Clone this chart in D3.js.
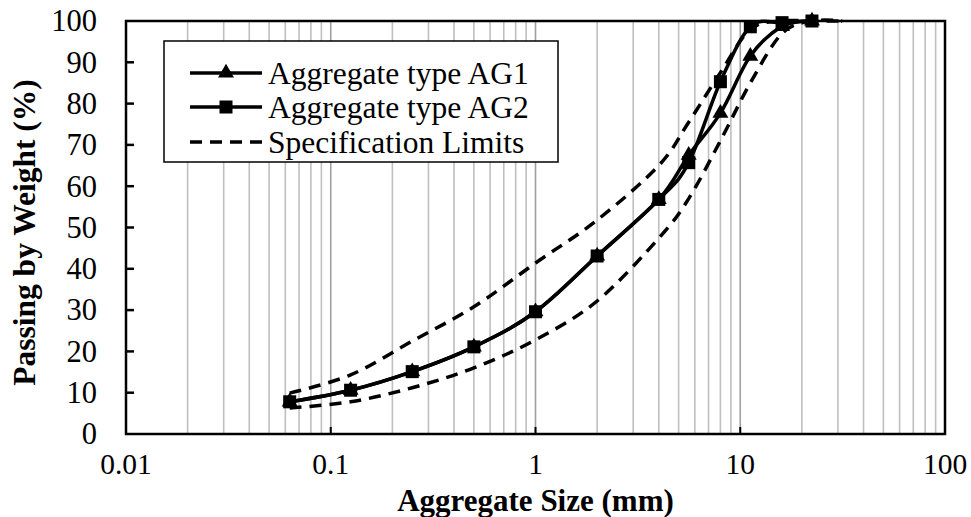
<!DOCTYPE html>
<html>
<head>
<meta charset="utf-8">
<script src="https://cdn.jsdelivr.net/npm/d3@7"></script>
<style>
  html, body { margin: 0; padding: 0; background: #fff; }
  svg { display: block; }
</style>
</head>
<body>
<svg id="chart" width="971" height="517"></svg>
<script>
// ---- data ----
const sieveSizes = [0.063, 0.125, 0.25, 0.5, 1, 2, 4, 5.6, 8, 11.2, 16, 22.4];
const ag1Values  = [7.8, 10.6, 15.1, 21.1, 29.6, 43.1, 56.8, 67.5, 77.7, 91.5, 98.7, 100];
const ag2Values  = [7.8, 10.6, 15.1, 21.1, 29.6, 43.1, 56.8, 65.7, 85.3, 98.6, 99.6, 100];
const specSizes  = [0.063, 0.125, 0.25, 0.5, 1, 2, 4, 5.6, 8, 11.2, 16, 22.4, 31.5];
const specUpper  = [9.9, 14.3, 22.5, 30.8, 41.4, 51.8, 65, 75.5, 87.5, 98, 100, 100, 100];
const specLower  = [6.3, 7.8, 11.2, 16, 22.8, 32.2, 47.4, 57, 71, 85, 97, 100, 100];
const xTickValues = [0.01, 0.1, 1, 10, 100];
const xTickLabels = ["0.01", "0.1", "1", "10", "100"];
const yTickValues = [0, 10, 20, 30, 40, 50, 60, 70, 80, 90, 100];
const legendLabels = ["Aggregate type AG1", "Aggregate type AG2", "Specification Limits"];

// ---- layout ----
const FONT = "'Liberation Serif', 'DejaVu Serif', 'Times New Roman', Times, serif";
const svg = d3.select("#chart");
const L = 126, R = 945, T = 21, B = 434;
const x = d3.scaleLog().domain([0.01, 100]).range([L, R]);
const y = d3.scaleLinear().domain([0, 100]).range([B, T]);

// vertical gridlines
const gridVals = [];
[0.01, 0.1, 1, 10].forEach(dec => { for (let k = 1; k <= 9; k++) { if (!(dec === 0.01 && k === 1)) gridVals.push(dec * k); } });
svg.append("g").selectAll("line").data(gridVals).join("line")
  .attr("x1", d => x(d)).attr("x2", d => x(d))
  .attr("y1", T).attr("y2", B)
  .attr("stroke", d => (Math.abs(Math.log10(d) - Math.round(Math.log10(d))) < 1e-9) ? "#a0a0a0" : "#bfbfbf")
  .attr("stroke-width", 1.6);

// x axis major ticks (inside)
svg.append("g").selectAll("line").data([0.1, 1, 10]).join("line")
  .attr("x1", d => x(d)).attr("x2", d => x(d))
  .attr("y1", B).attr("y2", B - 7)
  .attr("stroke", "#000").attr("stroke-width", 2);

// y axis ticks (inside)
svg.append("g").selectAll("line").data(yTickValues.slice(1, -1)).join("line")
  .attr("x1", L).attr("x2", L + 8)
  .attr("y1", d => y(d)).attr("y2", d => y(d))
  .attr("stroke", "#000").attr("stroke-width", 2.5);

// frame
svg.append("rect").attr("x", L).attr("y", T).attr("width", R - L).attr("height", B - T)
  .attr("fill", "none").attr("stroke", "#000").attr("stroke-width", 2.5);

// tick labels
svg.append("g").selectAll("text").data(yTickValues).join("text")
  .attr("font-family", FONT)
  .attr("x", 97).attr("y", d => y(d)).attr("dy", "0.34em")
  .attr("text-anchor", "end").attr("font-size", 30.5).text(d => d);
svg.append("g").selectAll("text").data(xTickValues).join("text")
  .attr("font-family", FONT)
  .attr("x", d => x(d)).attr("y", 474)
  .attr("text-anchor", "middle").attr("font-size", 29.5).text((d, i) => xTickLabels[i]);

// axis titles
svg.append("text").attr("font-family", FONT)
  .attr("x", (L + R) / 2).attr("y", 511).attr("text-anchor", "middle")
  .attr("font-size", 31).attr("font-weight", "bold").text("Aggregate Size (mm)");
svg.append("text").attr("font-family", FONT)
  .attr("transform", `translate(35,${(T + B) / 2 + 5}) rotate(-90)`)
  .attr("text-anchor", "middle").attr("font-size", 31.5).attr("font-weight", "bold")
  .text("Passing by Weight (%)");

// lines
const line = d3.line().x(d => x(d[0])).y(d => y(d[1])).curve(d3.curveCardinal.tension(0));
const zip = (a, b) => a.map((v, i) => [v, b[i]]);

const plot = svg.append("g");
plot.append("path").datum(zip(specSizes, specUpper)).attr("d", line)
  .attr("fill", "none").attr("stroke", "#000").attr("stroke-width", 3.5).attr("stroke-dasharray", "12,8");
plot.append("path").datum(zip(specSizes, specLower)).attr("d", line)
  .attr("fill", "none").attr("stroke", "#000").attr("stroke-width", 3.5).attr("stroke-dasharray", "12,8");
plot.append("path").datum(zip(sieveSizes, ag1Values)).attr("d", line)
  .attr("fill", "none").attr("stroke", "#000").attr("stroke-width", 3.5);
plot.append("path").datum(zip(sieveSizes, ag2Values)).attr("d", line)
  .attr("fill", "none").attr("stroke", "#000").attr("stroke-width", 3.5);

const tri = d3.symbol().type(d3.symbolTriangle).size(110);
plot.append("g").selectAll("path").data(zip(sieveSizes, ag1Values)).join("path")
  .attr("d", tri).attr("transform", d => `translate(${x(d[0])},${y(d[1])})`).attr("fill", "#000");
plot.append("g").selectAll("rect").data(zip(sieveSizes, ag2Values)).join("rect")
  .attr("x", d => x(d[0]) - 6.5).attr("y", d => y(d[1]) - 6.5)
  .attr("width", 13).attr("height", 13).attr("fill", "#000");

// legend
const lg = svg.append("g");
lg.append("rect").attr("x", 164).attr("y", 41).attr("width", 394).attr("height", 121)
  .attr("fill", "#fff").attr("stroke", "#000").attr("stroke-width", 1.5);
const rowsY = [73, 107, 142];
legendLabels.forEach((lab, i) => {
  const ly = rowsY[i];
  const l = lg.append("line").attr("x1", 190).attr("x2", 262).attr("y1", ly).attr("y2", ly)
    .attr("stroke", "#000").attr("stroke-width", 3.5);
  if (i === 2) l.attr("stroke-dasharray", "12,8");
  if (i === 0) lg.append("path").attr("d", tri).attr("transform", `translate(226,${ly})`).attr("fill", "#000");
  if (i === 1) lg.append("rect").attr("x", 219.5).attr("y", ly - 6.5).attr("width", 13).attr("height", 13).attr("fill", "#000");
  lg.append("text").attr("font-family", FONT)
    .attr("x", 268).attr("y", ly).attr("dy", "0.34em").attr("font-size", 31.5).text(lab);
});
</script>
</body>
</html>
